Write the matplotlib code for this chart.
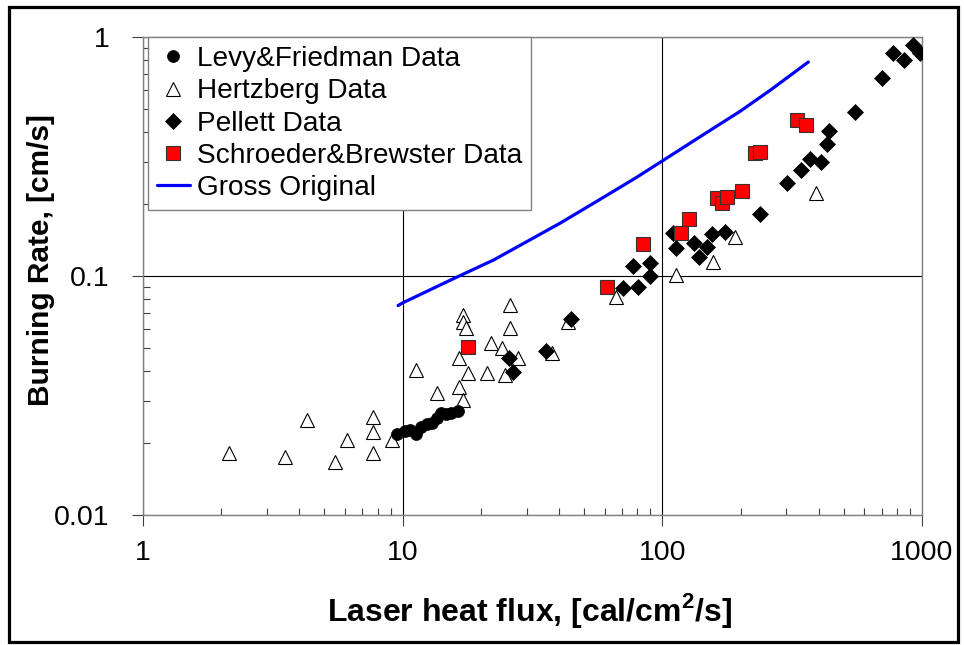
import matplotlib
matplotlib.use("Agg")
import matplotlib.pyplot as plt
from matplotlib.patches import Rectangle
from matplotlib.ticker import LogLocator, FixedLocator, FixedFormatter, NullFormatter

plt.rcParams['font.family'] = ['Liberation Sans', 'DejaVu Sans']

# ---------------- data ----------------
levy_x = [9.55, 10.2, 10.7, 11.3, 11.8, 12.4, 13.0, 13.5, 14.0, 14.7, 15.4, 16.3]
levy_y = [0.0218, 0.0225, 0.0227, 0.0218, 0.0233, 0.0240, 0.0243, 0.0255, 0.0267, 0.0265, 0.0267, 0.0272]

hertz_x = [2.15, 3.51, 4.30, 5.51, 6.08, 7.72, 7.72, 7.72, 9.06, 11.3, 13.5, 16.5, 17.0,
           16.5, 17.0, 17.0, 17.5, 17.8, 21.2, 21.8, 24.2, 24.7, 25.8, 26.0, 27.7, 37.7,
           43.5, 66.6, 113, 157, 191, 392]
hertz_y = [0.0182, 0.0175, 0.0250, 0.0167, 0.0206, 0.0257, 0.0223, 0.0182, 0.0206, 0.0404,
           0.0324, 0.0343, 0.0303, 0.0454, 0.0687, 0.0642, 0.0606, 0.0393, 0.0393, 0.0524,
           0.0500, 0.0385, 0.0756, 0.0606, 0.0454, 0.0476, 0.0642, 0.0817, 0.1010, 0.1144,
           0.1456, 0.2225]

pellett_x = [25.6, 26.7, 35.5, 44.3, 70.8, 80.9, 77.4, 90.0, 90.0, 113, 110, 132, 138, 148,
             155, 175, 237, 301, 343, 372, 410, 432, 440, 554, 704, 776, 855, 927, 985]
pellett_y = [0.0454, 0.0397, 0.0486, 0.0661, 0.0891, 0.0899, 0.1101, 0.1133, 0.100, 0.131,
             0.152, 0.1374, 0.120, 0.1323, 0.1499, 0.1528, 0.1817, 0.245, 0.2777, 0.3087,
             0.2999, 0.3567, 0.4044, 0.4856, 0.674, 0.857, 0.801, 0.926, 0.857]

sb_x = [17.9, 61.4, 84.6, 118, 127, 163, 170, 178, 202, 228, 237, 331, 359]
sb_y = [0.0505, 0.0899, 0.1361, 0.1513, 0.1732, 0.2120, 0.2021, 0.214, 0.2268, 0.327,
        0.330, 0.4494, 0.428]

gross_x = [9.6, 9.98, 15.3, 22.4, 40.5, 60.0, 78.8, 100, 140, 200, 261, 365]
gross_y = [0.0752, 0.0771, 0.0962, 0.1167, 0.1666, 0.215, 0.257, 0.303, 0.383, 0.490, 0.600, 0.786]

x_ticks = [1, 10, 100, 1000]
x_labels = ['1', '10', '100', '1000']
y_ticks = [0.01, 0.1, 1]
y_labels = ['0.01', '0.1', '1']

# ---------------- figure ----------------
W, H = 964, 645
fig = plt.figure(figsize=(W / 100, H / 100), dpi=100)
ax = fig.add_axes([143 / W, (H - 515) / H, 779 / W, 478 / H])

ax.set_xscale('log')
ax.set_yscale('log')

ax.plot(levy_x, levy_y, linestyle='none', marker='o', markersize=8.6,
        markerfacecolor='black', markeredgecolor='black', markeredgewidth=0.5,
        label='Levy&Friedman Data', zorder=4)
ax.plot(hertz_x, hertz_y, linestyle='none', marker='^', markersize=10.5,
        markerfacecolor='white', markeredgecolor='black', markeredgewidth=0.8,
        label='Hertzberg Data', zorder=3)
ax.plot(pellett_x, pellett_y, linestyle='none', marker='D', markersize=7.7,
        markerfacecolor='black', markeredgecolor='black', markeredgewidth=0.5,
        label='Pellett Data', zorder=5)
ax.plot(sb_x, sb_y, linestyle='none', marker='s', markersize=9.5,
        markerfacecolor='#ff0000', markeredgecolor='#333333', markeredgewidth=0.8,
        label='Schroeder&Brewster Data', zorder=6)
ax.plot(gross_x, gross_y, color='#0000ff', linewidth=2.3, solid_capstyle='round',
        label='Gross Original', zorder=7)

ax.set_xlim(1, 1000)
ax.set_ylim(0.01, 1)

ax.xaxis.set_major_locator(FixedLocator(x_ticks))
ax.xaxis.set_major_formatter(FixedFormatter(x_labels))
ax.yaxis.set_major_locator(FixedLocator(y_ticks))
ax.yaxis.set_major_formatter(FixedFormatter(y_labels))
ax.xaxis.set_minor_locator(LogLocator(base=10, subs=range(2, 10)))
ax.yaxis.set_minor_locator(LogLocator(base=10, subs=range(2, 10)))
ax.xaxis.set_minor_formatter(NullFormatter())
ax.yaxis.set_minor_formatter(NullFormatter())

ax.grid(True, which='major', color='black', linewidth=0.8, zorder=1)
ax.set_axisbelow(True)

for s in ax.spines.values():
    s.set_color('#808080')
    s.set_linewidth(1.0)

ax.tick_params(axis='both', which='major', direction='out', length=8, width=0.8,
               color='#404040', labelsize=20.5)
ax.tick_params(axis='x', which='major', pad=10)
ax.tick_params(axis='y', which='major', pad=16)
ax.tick_params(axis='both', which='minor', direction='in', length=5, width=0.8,
               color='#404040')

ax.set_xlabel('Laser heat flux, [cal/cm$^\\mathregular{2}$/s]', fontsize=23, fontweight='bold')
ax.set_ylabel('Burning Rate, [cm/s]', fontsize=21.5, fontweight='bold')
ax.xaxis.set_label_coords((530 - 143) / 779, (515 - 611) / 478)
ax.xaxis.label.set_va('center')
ax.yaxis.set_label_coords((41 - 143) / 779, (515 - 260) / 478)
ax.yaxis.label.set_va('center')

leg = ax.legend(loc='upper left', bbox_to_anchor=(5 / 779, 1.0), borderaxespad=0,
                fontsize=20.2, frameon=True, fancybox=False, shadow=False,
                numpoints=1, handlelength=1.15, handletextpad=0.25,
                labelspacing=0.22, borderpad=0.33, framealpha=1)
leg.get_frame().set_edgecolor('#808080')
leg.get_frame().set_linewidth(1.0)
leg.set_zorder(10)

fig.patches.append(Rectangle((8.5 / W, (H - 641.5) / H), (958 - 8.5) / W, (641.5 - 6.5) / H,
                             transform=fig.transFigure, fill=False, edgecolor='black',
                             linewidth=2.3))

fig.savefig('out.png', dpi=100)
